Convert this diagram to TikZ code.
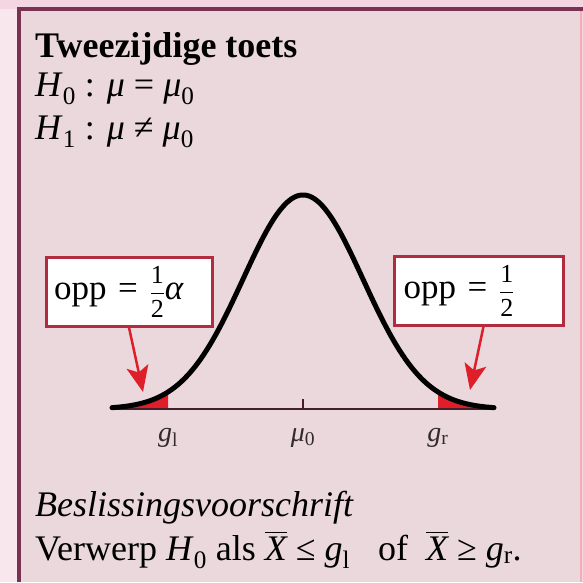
\documentclass[tikz,border=0pt]{standalone}
\usepackage{fontspec}
\setmainfont{Liberation Serif}
\usepackage{amsmath}
\usetikzlibrary{arrows.meta}
\definecolor{bgpink}{RGB}{234,216,220}
\definecolor{edgepink}{RGB}{244,214,226}
\definecolor{marginpink}{RGB}{248,232,238}
\definecolor{framecol}{RGB}{122,50,82}
\definecolor{boxred}{RGB}{176,44,62}
\definecolor{tailred}{RGB}{222,30,40}
\definecolor{labgray}{RGB}{50,42,45}
\definecolor{axiscol}{RGB}{70,30,40}
\newcommand{\mi}[1]{\textit{#1}}
\newcommand{\lowidx}[1]{\textsubscript{#1}}
\newcommand{\half}{{\fontsize{26}{26}\selectfont$\dfrac{\text{1}}{\text{2}}$}}
\newcommand{\xbar}{$\overline{\text{\itshape X}}$}
\begin{document}
\begin{tikzpicture}[x=1pt,y=-1pt,
  txt/.style={anchor=base west, inner sep=0pt, font=\fontsize{36}{42}\selectfont},
  oppbox/.style={draw=boxred, line width=3pt, fill=white, minimum width=166pt, minimum height=69pt, inner sep=0pt, font=\fontsize{35}{40}\selectfont, text width=150pt, align=left},
  pointer/.style={draw=tailred, line width=2.5pt, -{Stealth[length=26pt,width=22pt,inset=6pt]}},
  axlab/.style={font=\fontsize{28}{32}\selectfont, text=labgray, anchor=base, inner sep=0pt},
  bell/.style={line width=5pt, line cap=round},
]
\useasboundingbox (0,0) rectangle (583,582);
\fill[edgepink] (0,0) rectangle (583,582);
\fill[marginpink] (0,9) rectangle (17,582);
\fill[bgpink] (20,9) rectangle (580,582);
\draw[framecol, line width=4pt] (19,582) -- (19,9) -- (583,9);
\draw[edgepink!80!red, line width=2pt] (581,11) -- (581,582);
% tails
\fill[tailred] plot[domain=112:168,samples=40] (\x,{409-214*exp(-((\x-303)/60)^2/2)}) -- (168,409) -- (112,409) -- cycle;
\fill[tailred] plot[domain=438:494,samples=40] (\x,{409-214*exp(-((\x-303)/60)^2/2)}) -- (494,409) -- (438,409) -- cycle;
% axis
\coordinate (axL) at (112,409);
\coordinate (axR) at (494,409);
\coordinate (mid) at (303,409);
\coordinate (midtop) at (303,399);
\draw[axiscol, line width=1.5pt] (axL) -- (axR);
\draw[axiscol, line width=1.2pt] (mid) -- (midtop);
% curve
\draw[bell] plot[domain=112:494,samples=160] (\x,{409-214*exp(-((\x-303)/60)^2/2)});
% axis labels
\node[axlab] (gl) at (168,441) {\mi{g}\lowidx{l}};
\node[axlab] (mu) at (303,441) {\mi{μ}\lowidx{0}};
\node[axlab] (gr) at (438,441) {\mi{g}\lowidx{r}};
% boxes
\node[oppbox] (boxL) at (129,291.5) {opp = \half\mi{α}};
\node[oppbox, minimum width=169pt] (boxR) at (478.5,290.5) {opp = \half};
\coordinate (tipL) at (143,392);
\coordinate (tipR) at (470,390);
\draw[pointer] (boxL.south) -- (tipL);
\draw[pointer] ([xshift=5pt]boxR.south) -- (tipR);
% texts
\node[txt, font=\fontsize{36}{42}\selectfont\bfseries] (title) at (35,57) {Tweezijdige toets};
\node[txt] (hnul) at (35,96) {\mi{H}\lowidx{0} : \mi{μ} = \mi{μ}\lowidx{0}};
\node[txt] (heen) at (35,139) {\mi{H}\lowidx{1} : \mi{μ} ≠ \mi{μ}\lowidx{0}};
\node[txt] (besl) at (35,516) {\itshape Beslissingsvoorschrift};
\node[txt] (verw) at (35,560) {Verwerp \mi{H}\lowidx{0} als \xbar{} ≤ \mi{g}\lowidx{l}\hspace{28pt}of\hspace{18pt}\xbar{} ≥ \mi{g}\lowidx{r}.};
\end{tikzpicture}
\end{document}
